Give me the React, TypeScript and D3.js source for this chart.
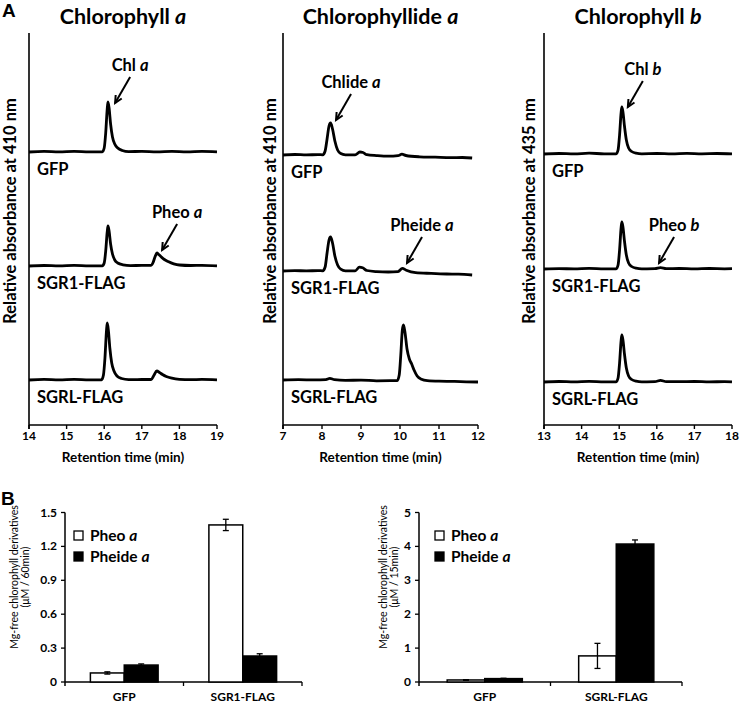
import React from "react";
import * as d3 from "d3";

const FONT = "Lato, 'Open Sans', sans-serif";

// ---------- Panel A data ----------
const panelTitles = ["Chlorophyll ", "Chlorophyllide ", "Chlorophyll "];
const panelTitleItalic = ["a", "a", "b"];
const wavelengths = ["410", "410", "435"];
const timeDomains: [number, number][] = [[14, 19], [7, 12], [13, 18]];
const timeTicks = [
  [14, 15, 16, 17, 18, 19],
  [7, 8, 9, 10, 11, 12],
  [13, 14, 15, 16, 17, 18],
];
const samples = ["GFP", "SGR1-FLAG", "SGRL-FLAG"];
// vertical offset of each trace (relative absorbance units)
const traceOffsets = [
  [273, 159, 45],
  [270, 154, 45],
  [271, 156, 43],
];

// Chlorophyll a traces [time, signal]
const chlaGFP: [number, number][] = [
  [14, 0], [14.4, 0.6], [14.8, 0.1], [15.2, 0.7], [15.6, 0.2], [15.95, 0.2],
  [16.0, 4], [16.04, 19], [16.08, 43], [16.1, 50], [16.13, 44], [16.17, 28],
  [16.22, 15], [16.28, 8], [16.36, 4], [16.48, 1.5], [16.65, 0.4],
  [17.0, 0.6], [17.4, 0.1], [17.8, 0.7], [18.2, 0.2], [18.6, 0.6], [19, 0.2],
];
const chlaSGR1: [number, number][] = [
  [14, 0], [14.4, 0.5], [14.8, 0.1], [15.2, 0.6], [15.6, 0.2], [15.95, 0.2],
  [16.0, 3], [16.04, 15], [16.08, 34], [16.1, 40], [16.13, 35], [16.17, 22],
  [16.22, 12], [16.28, 6], [16.36, 3], [16.5, 1.2], [16.7, 0.4],
  [17.0, 0.6], [17.24, 0.6], [17.3, 3.5], [17.35, 9], [17.4, 13], [17.45, 11.5],
  [17.52, 9], [17.6, 6.5], [17.7, 4.5], [17.85, 2.2], [18.0, 1], [18.3, 0.5],
  [18.6, 0.7], [19, 0.2],
];
const chlaSGRL: [number, number][] = [
  [14, 0], [14.4, 0.6], [14.8, 0.2], [15.2, 0.7], [15.6, 0.2], [15.93, 0.2],
  [15.98, 5], [16.02, 22], [16.06, 49], [16.08, 57], [16.11, 50], [16.15, 32],
  [16.2, 17], [16.26, 9], [16.34, 4], [16.46, 1.5], [16.65, 0.4],
  [17.0, 0.5], [17.25, 0.5], [17.32, 4.5], [17.4, 9], [17.47, 7.5],
  [17.55, 5.5], [17.65, 3.5], [17.8, 1.8], [18.0, 0.7], [18.3, 0.3],
  [18.6, 0.6], [19, 0.2],
];

// Chlorophyllide a traces
const chlideGFP: [number, number][] = [
  [7, 0], [7.3, 0.5], [7.6, 0.1], [7.9, 0.4], [8.02, 0.2], [8.08, 4],
  [8.13, 16], [8.18, 29], [8.22, 32], [8.27, 26], [8.33, 14], [8.4, 5],
  [8.48, 1.5], [8.6, 0.2], [8.85, 0.1], [8.97, 3], [9.05, 2.5], [9.15, 0.3],
  [9.4, -0.6], [9.7, -1.2], [9.95, -0.6], [10.05, 0.8], [10.15, -0.5],
  [10.5, -1.8], [10.9, -2.2], [11.3, -2.6], [11.6, -2.5], [11.85, -3],
];
const chlideSGR1: [number, number][] = [
  [7, 0], [7.3, 0.4], [7.6, 0.1], [7.9, 0.4], [8.02, 0.2], [8.08, 4],
  [8.13, 18], [8.18, 31], [8.22, 34], [8.27, 28], [8.33, 15], [8.4, 6],
  [8.48, 1.8], [8.6, 0.2], [8.85, 0.2], [8.96, 3.8], [9.04, 3.2], [9.15, 0.5],
  [9.4, -0.6], [9.7, -1], [9.95, -0.6], [10.06, 2.6], [10.16, 0.8],
  [10.4, -1.6], [10.8, -2.4], [11.2, -3], [11.5, -3.2], [11.85, -4],
];
const chlideSGRL: [number, number][] = [
  [7, 0], [7.4, 0.3], [7.8, 0.1], [8.1, 0.4], [8.2, 1.6], [8.32, 0.3],
  [8.6, -0.4], [9.0, -0.1], [9.4, -0.8], [9.75, -0.7], [9.93, -0.5],
  [9.98, 5], [10.02, 25], [10.06, 50], [10.09, 55], [10.13, 47], [10.18, 31],
  [10.24, 21], [10.3, 16], [10.36, 10], [10.44, 4], [10.55, 0.8], [10.7, -0.6],
  [11.0, -1.2], [11.4, -1.4], [11.7, -1.8], [12, -2],
];

// Chlorophyll b traces
const chlbGFP: [number, number][] = [
  [13, 0], [13.4, 0.5], [13.8, 0.1], [14.2, 0.8], [14.6, 0.2], [14.92, 0.2],
  [14.97, 4], [15.01, 19], [15.05, 41], [15.07, 47], [15.1, 42], [15.14, 28],
  [15.19, 14], [15.25, 6], [15.33, 2.5], [15.45, 0.8], [15.6, 0.2],
  [16.0, 0.5], [16.4, 0.1], [16.8, 0.6], [17.2, 0.2], [17.6, 0.5], [18, 0.1],
];
const chlbSGR1: [number, number][] = [
  [13, 0], [13.4, 0.4], [13.8, 0.1], [14.2, 0.6], [14.6, 0.2], [14.92, 0.2],
  [14.97, 4], [15.01, 19], [15.05, 41], [15.07, 47], [15.1, 42], [15.14, 28],
  [15.19, 14], [15.25, 6], [15.33, 2.5], [15.45, 0.8], [15.6, 0.2],
  [15.95, 0.3], [16.1, 1.3], [16.25, 0.3], [16.6, 0.5], [17.0, 0.1],
  [17.4, 0.5], [17.8, 0.2], [18, 0.3],
];
const chlbSGRL: [number, number][] = [
  [13, 0], [13.4, 0.5], [13.8, 0.1], [14.2, 0.6], [14.6, 0.2], [14.92, 0.2],
  [14.97, 4], [15.01, 19], [15.05, 41], [15.07, 47], [15.1, 42], [15.14, 28],
  [15.19, 14], [15.25, 6], [15.33, 2.5], [15.45, 0.8], [15.6, 0.2],
  [15.95, 0.3], [16.1, 1.6], [16.25, 0.4], [16.6, 0.3], [17.0, 0.5],
  [17.4, 0.1], [17.8, 0.4], [18, 0.1],
];
const traces = [
  [chlaGFP, chlaSGR1, chlaSGRL],
  [chlideGFP, chlideSGR1, chlideSGRL],
  [chlbGFP, chlbSGR1, chlbSGRL],
];

// arrow annotations: panel, trace index, label, italic, tip time, tip signal
const annPanel = [0, 0, 1, 1, 2, 2];
const annTrace = [0, 1, 0, 1, 0, 1];
const annLabel = ["Chl ", "Pheo ", "Chlide ", "Pheide ", "Chl ", "Pheo "];
const annItalic = ["a", "a", "a", "a", "b", "b"];
const annTime = [16.29, 17.54, 8.36, 10.18, 15.23, 16.06];
const annSignal = [49, 16, 35, 8, 47, 6];

// ---------- Panel B data ----------
const barSeries = ["Pheo a", "Pheide a"];
const leftCats = ["GFP", "SGR1-FLAG"];
const leftPheo = [0.08, 1.39];
const leftPheoErr = [0.01, 0.05];
const leftPheide = [0.15, 0.23];
const leftPheideErr = [0.01, 0.02];
const leftTicks = [0, 0.3, 0.6, 0.9, 1.2, 1.5];
const rightCats = ["GFP", "SGRL-FLAG"];
const rightPheo = [0.06, 0.77];
const rightPheoErr = [0.01, 0.37];
const rightPheide = [0.1, 4.07];
const rightPheideErr = [0.01, 0.12];
const rightTicks = [0, 1, 2, 3, 4, 5];

const axisX = [[29, 217], [283, 478], [544, 732]];
const yLabelX = [16, 276, 535];

function ChromPanel({ p }: { p: number }) {
  const x = d3.scaleLinear().domain(timeDomains[p]).range(axisX[p]);
  const y = d3.scaleLinear().domain([0, 392]).range([425, 33]);
  const x0 = axisX[p][0];
  const line = (off: number) =>
    d3
      .line<[number, number]>()
      .x((d) => x(d[0]))
      .y((d) => y(d[1] + off))
      .curve(d3.curveMonotoneX);
  const midX = (axisX[p][0] + axisX[p][1]) / 2;
  return (
    <g>
      <text x={midX} y={24} textAnchor="middle" fontSize={21.5} fontWeight="bold" fontFamily={FONT}>
        {panelTitles[p]}
        <tspan fontStyle="italic">{panelTitleItalic[p]}</tspan>
      </text>
      <line x1={x0} x2={x0} y1={y(392)} y2={y(0) + 4} stroke="#000" strokeWidth={1.6} />
      <line x1={x0} x2={axisX[p][1]} y1={y(0)} y2={y(0)} stroke="#000" strokeWidth={1.6} />
      {timeTicks[p].map((t) => (
        <g key={t}>
          <line x1={x(t)} x2={x(t)} y1={y(0)} y2={y(0) + 4} stroke="#000" strokeWidth={1.4} />
          <text x={x(t)} y={440} textAnchor="middle" fontSize={12} fontWeight="bold" fontFamily={FONT}>
            {t}
          </text>
        </g>
      ))}
      <text x={midX} y={462} textAnchor="middle" fontSize={13.5} fontWeight="bold" fontFamily={FONT}>
        Retention time (min)
      </text>
      <text
        transform={`translate(${yLabelX[p]},${y(214)}) rotate(-90)`}
        textAnchor="middle"
        fontSize={16.5}
        fontWeight="bold"
        fontFamily={FONT}
      >
        {`Relative absorbance at ${wavelengths[p]} nm`}
      </text>
      {traces[p].map((tr, i) => (
        <g key={i}>
          <path d={line(traceOffsets[p][i])(tr) || ""} fill="none" stroke="#000" strokeWidth={2.8} strokeLinejoin="round" />
          <text x={x0 + 8} y={y(traceOffsets[p][i]) + 23} fontSize={16.5} fontWeight="bold" fontFamily={FONT}>
            {samples[i]}
          </text>
        </g>
      ))}
      {annPanel.map((ap, k) => {
        if (ap !== p) return null;
        const tx = x(annTime[k]);
        const ty = y(traceOffsets[p][annTrace[k]] + annSignal[k]);
        const sx = tx + 15;
        const sy = ty - 26;
        const ang = Math.atan2(ty - sy, tx - sx);
        const a1 = ang + Math.PI - 0.45;
        const a2 = ang + Math.PI + 0.45;
        const L = 8;
        return (
          <g key={k}>
            <line x1={sx} y1={sy} x2={tx} y2={ty} stroke="#000" strokeWidth={2} />
            <path
              d={`M${tx + L * Math.cos(a1)},${ty + L * Math.sin(a1)} L${tx},${ty} L${tx + L * Math.cos(a2)},${ty + L * Math.sin(a2)}`}
              fill="none"
              stroke="#000"
              strokeWidth={2}
            />
            <text x={sx} y={sy - 6} textAnchor="middle" fontSize={16.5} fontWeight="bold" fontFamily={FONT}>
              {annLabel[k]}
              <tspan fontStyle="italic">{annItalic[k]}</tspan>
            </text>
          </g>
        );
      })}
    </g>
  );
}

function BarPanel({
  x0, x1, cats, pheo, pheoErr, pheide, pheideErr, ticks, maxY, unit, legendX, labelX,
}: {
  x0: number; x1: number; cats: string[]; pheo: number[]; pheoErr: number[];
  pheide: number[]; pheideErr: number[]; ticks: number[]; maxY: number; unit: string;
  legendX: number; labelX: number;
}) {
  const y = d3.scaleLinear().domain([0, maxY]).range([682, 512.5]);
  const xb = d3.scaleBand().domain(cats).range([x0, x1]).padding(0);
  const xs = d3.scaleBand().domain(barSeries).range([0, xb.bandwidth()]).paddingInner(0).paddingOuter(0.75);
  const vals = [pheo, pheide];
  const errs = [pheoErr, pheideErr];
  const fmt = (v: number) => (v === 0 ? "0" : maxY < 2 ? d3.format(".1f")(v) : String(v));
  return (
    <g>
      <line x1={x0} x2={x0} y1={y(maxY)} y2={y(0) + 4} stroke="#000" strokeWidth={1.5} />
      <line x1={x0} x2={x1} y1={y(0)} y2={y(0)} stroke="#000" strokeWidth={1.5} />
      {ticks.map((t) => (
        <g key={t}>
          <line x1={x0 - 4} x2={x0} y1={y(t)} y2={y(t)} stroke="#000" strokeWidth={1.3} />
          <text x={x0 - 8} y={y(t) + 4} textAnchor="end" fontSize={12} fontWeight="bold" fontFamily={FONT}>
            {fmt(t)}
          </text>
        </g>
      ))}
      {cats.map((c) => (
        <g key={c}>
          <line x1={(xb(c) as number) + xb.bandwidth()} x2={(xb(c) as number) + xb.bandwidth()} y1={y(0)} y2={y(0) + 4} stroke="#000" strokeWidth={1.3} />
          <text x={(xb(c) as number) + xb.bandwidth() / 2} y={701} textAnchor="middle" fontSize={12} fontWeight="bold" fontFamily={FONT}>
            {c}
          </text>
        </g>
      ))}
      {cats.map((c, ci) =>
        barSeries.map((s, si) => {
          const bx = (xb(c) as number) + (xs(s) as number);
          const v = vals[si][ci];
          const e = errs[si][ci];
          const cx = bx + xs.bandwidth() / 2;
          return (
            <g key={c + s}>
              <rect x={bx} y={y(v)} width={xs.bandwidth()} height={y(0) - y(v)} fill={si === 0 ? "#fff" : "#000"} stroke="#000" strokeWidth={1.5} />
              <line x1={cx} x2={cx} y1={y(v + e)} y2={y(v - e)} stroke="#000" strokeWidth={1.3} />
              <line x1={cx - 3} x2={cx + 3} y1={y(v + e)} y2={y(v + e)} stroke="#000" strokeWidth={1.3} />
              <line x1={cx - 3} x2={cx + 3} y1={y(v - e)} y2={y(v - e)} stroke="#000" strokeWidth={1.3} />
            </g>
          );
        })
      )}
      {barSeries.map((s, si) => (
        <g key={s}>
          <rect x={legendX} y={531 + si * 21} width={9} height={9} fill={si === 0 ? "#fff" : "#000"} stroke="#000" strokeWidth={1.3} />
          <text x={legendX + 16} y={541 + si * 21} fontSize={15.5} fontWeight="bold" fontFamily={FONT}>
            {s.split(" ")[0] + " "}
            <tspan fontStyle="italic">{s.split(" ")[1]}</tspan>
          </text>
        </g>
      ))}
      <text transform={`translate(${labelX},577) rotate(-90)`} textAnchor="middle" fontSize={10.5} fontFamily={FONT}>
        Mg-free chlorophyll derivatives
      </text>
      <text transform={`translate(${labelX + 11},577) rotate(-90)`} textAnchor="middle" fontSize={10.5} fontFamily={FONT}>
        {`(μM / ${unit})`}
      </text>
    </g>
  );
}

export default function App() {
  return (
    <svg width={741} height={706} style={{ position: "absolute", left: 0, top: 0, background: "#fff" }}>
      <rect width={741} height={706} fill="#fff" />
      <text x={2} y={17} fontSize={19} fontWeight="bold" fontFamily="'Liberation Sans', Arial, sans-serif">A</text>
      <text x={1} y={505} fontSize={19} fontWeight="bold" fontFamily="'Liberation Sans', Arial, sans-serif">B</text>
      {[0, 1, 2].map((p) => (
        <ChromPanel key={p} p={p} />
      ))}
      <BarPanel x0={65} x1={302} cats={leftCats} pheo={leftPheo} pheoErr={leftPheoErr} pheide={leftPheide}
        pheideErr={leftPheideErr} ticks={leftTicks} maxY={1.5} unit="60min" legendX={74} labelX={18} />
      <BarPanel x0={419} x1={682} cats={rightCats} pheo={rightPheo} pheoErr={rightPheoErr} pheide={rightPheide}
        pheideErr={rightPheideErr} ticks={rightTicks} maxY={5} unit="15min" legendX={435} labelX={387} />
    </svg>
  );
}
